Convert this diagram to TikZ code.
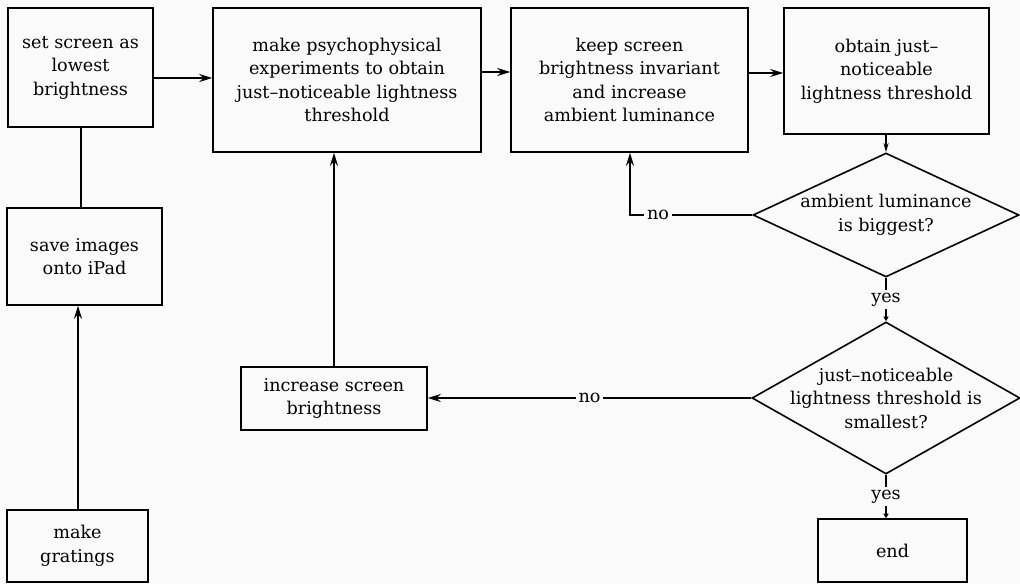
\documentclass[tikz,border=0pt]{standalone}
\usepackage{fontspec}
\setmainfont{DejaVu Serif}
\usetikzlibrary{shapes.geometric,arrows.meta}
\definecolor{bg}{RGB}{250,250,250}
\newcommand\txtfont{\fontsize{17.6}{23.5}\selectfont}
\begin{document}
\begin{tikzpicture}[x=1pt,y=-1pt,
  box/.style={draw, line width=1.6pt, rectangle, align=center, inner sep=0pt, font=\txtfont},
  dia/.style={draw, line width=1.6pt, diamond, inner sep=0pt},
  dtext/.style={align=center, font=\txtfont},
  arr/.style={line width=1.6pt, -{Stealth[length=13pt,width=8pt]}},
  arrmid/.style={line width=1.6pt, -{Stealth[length=9pt,width=5pt]}},
  arrsmall/.style={line width=1.6pt, -{Triangle[length=4.5pt,width=5pt]}},
  plain/.style={line width=1.6pt},
  lbl/.style={fill=bg, inner sep=3pt, font=\txtfont}]
\fill[bg] (0,0) rectangle (1020,584);
\useasboundingbox (0,0) rectangle (1020,584);

\node[box, minimum width=145pt, minimum height=119pt] (A) at (80.5,67.5) {set screen as\\lowest\\brightness};
\node[box, minimum width=268pt, minimum height=144pt] (B) at (347,80) {make psychophysical\\experiments to obtain\\just–noticeable lightness\\threshold};
\node[box, minimum width=237pt, minimum height=144pt] (C) at (629.5,80) {keep screen\\brightness invariant\\and increase\\ambient luminance};
\node[box, minimum width=205pt, minimum height=126pt] (D) at (886.5,71) {obtain just–\\noticeable\\lightness threshold};
\node[dia, minimum width=266pt, minimum height=124pt, label={[dtext]center:ambient luminance\\is biggest?}] (E) at (886,215) {};
\node[dia, minimum width=268pt, minimum height=152pt, label={[dtext]center:just–noticeable\\lightness threshold is\\smallest?}] (F) at (886,398) {};
\node[box, minimum width=149pt, minimum height=63pt] (End) at (892.5,550.5) {end};
\node[box, minimum width=186pt, minimum height=63pt] (G) at (334,398.5) {increase screen\\brightness};
\node[box, minimum width=155pt, minimum height=97pt] (H) at (84.5,256.5) {save images\\onto iPad};
\node[box, minimum width=141pt, minimum height=72pt] (I) at (77.5,546) {make\\gratings};

\coordinate (n1) at (630,215);

\draw[arr] ([yshift=-10.5pt]A.east) -- ([yshift=-10.5pt]A.east -| B.west);
\draw[arr] ([yshift=8pt]B.east) -- ([yshift=8pt]B.east -| C.west);
\draw[arr] ([yshift=7pt]C.east) -- ([yshift=7pt]C.east -| D.west);
\draw[arrmid] ([xshift=-0.5pt]D.south) -- (E.north);
\draw[arr] (E.west) -- node[lbl, pos=0.77]{no} (n1) -- (n1 |- C.south);
\draw[arrsmall] (E.south) -- node[lbl]{yes} (F.north);
\draw[arr] (F.west) -- node[lbl, pos=0.5]{no} (F.west -| G.east);
\draw[arrsmall] (F.south) -- node[lbl]{yes} (F.south |- End.north);
\draw[arr] (G.north) -- (G.north |- B.south);
\draw[plain] ([xshift=0.5pt]A.south) -- ([xshift=0.5pt]A.south |- H.north);
\draw[arr] ([xshift=0.5pt]I.north) -- ([xshift=0.5pt]I.north |- H.south);
\end{tikzpicture}
\end{document}
